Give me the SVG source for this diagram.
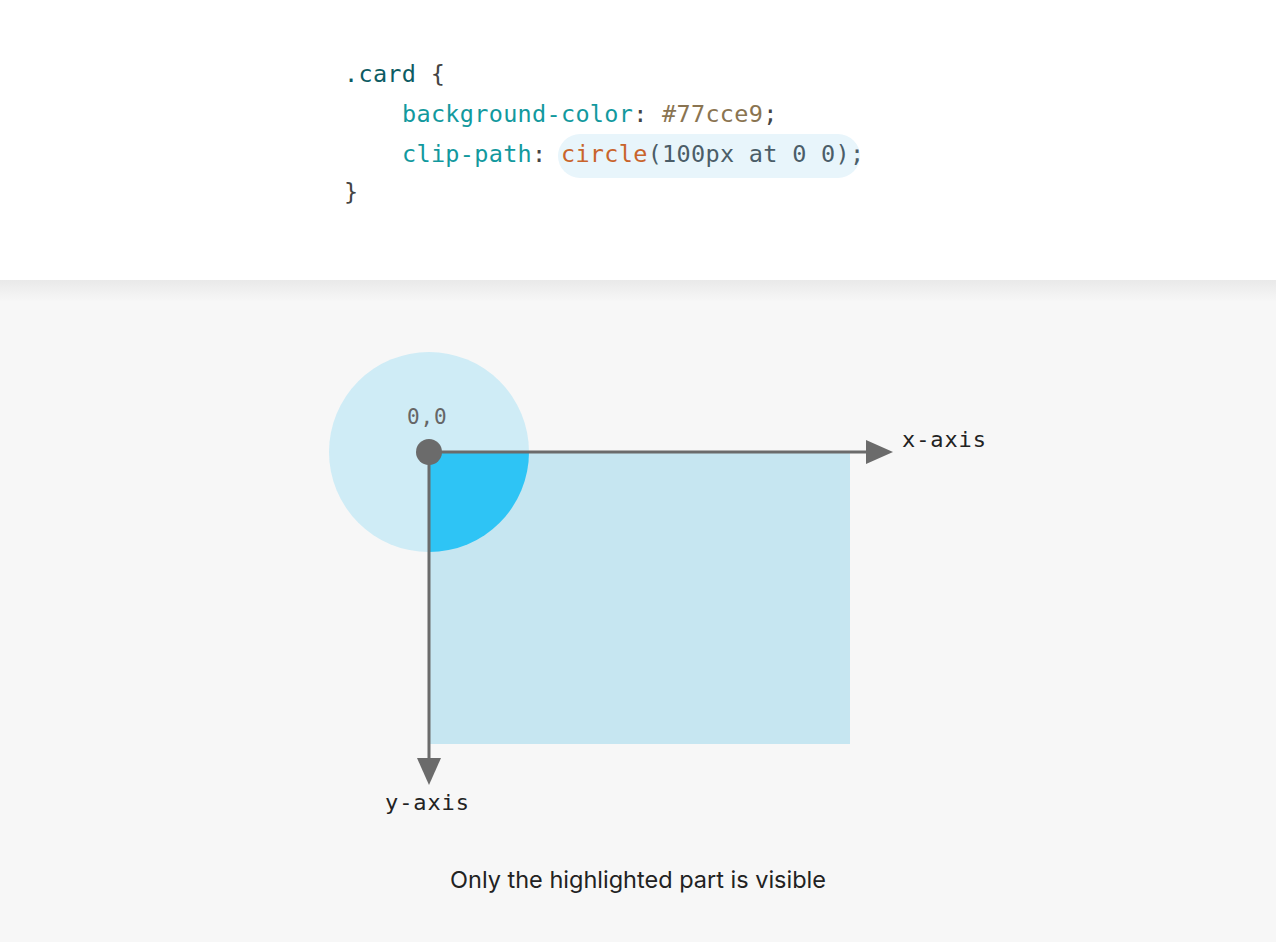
<svg xmlns="http://www.w3.org/2000/svg" width="1276" height="942" viewBox="0 0 1276 942">
<defs>
<linearGradient id="shadow" x1="0" y1="0" x2="0" y2="1">
<stop offset="0" stop-color="#e9e9e9"/>
<stop offset="1" stop-color="#f7f7f7"/>
</linearGradient>
<clipPath id="clipCircle"><circle cx="429" cy="452" r="100"/></clipPath>
</defs>
<style>
.code{font-family:"DejaVu Sans Mono",monospace;font-size:23.5px;letter-spacing:0.3px}
.sel{fill:#0d5c63}
.punc{fill:#444}
.prop{fill:#12999e}
.val{fill:#8a7451}
.fn{fill:#c9642c}
.arg{fill:#4b5d68}
.mono{font-family:"DejaVu Sans Mono",monospace}
.axis{stroke:#6b6b6b;stroke-width:3;fill:none}
.head{fill:#6b6b6b}
.lbl{font-size:22px;letter-spacing:0.9px;fill:#222}
</style>
<rect x="0" y="0" width="1276" height="942" fill="#f7f7f7"/>
<rect x="0" y="280" width="1276" height="22" fill="url(#shadow)"/>
<rect x="0" y="0" width="1276" height="280" fill="#ffffff"/>

<g id="code">
<rect x="558" y="134" width="302" height="44" rx="22" fill="#e8f5fb"/>
<text class="code" x="344" y="82"><tspan class="sel">.card</tspan><tspan class="punc"> {</tspan></text>
<text class="code" x="402" y="122"><tspan class="prop">background-color</tspan><tspan class="punc">: </tspan><tspan class="val">#77cce9</tspan><tspan class="punc">;</tspan></text>
<text class="code" x="402" y="162"><tspan class="prop">clip-path</tspan><tspan class="punc">: </tspan><tspan class="fn">circle</tspan><tspan class="arg">(100px at 0 0);</tspan></text>
<text class="code punc" x="344" y="200">}</text>
</g>

<g id="shapes">
<circle cx="429" cy="452" r="100" fill="#cfecf6"/>
<rect x="429" y="452" width="421" height="292" fill="#c6e6f1"/>
<rect x="429" y="452" width="421" height="292" fill="#2ec4f5" clip-path="url(#clipCircle)"/>
</g>

<g id="connectors">
<line class="axis" x1="429" y1="452" x2="867" y2="452"/>
<path class="head" d="M866,440 L893,452 L866,464 Z"/>
<line class="axis" x1="429" y1="452" x2="429" y2="760"/>
<path class="head" d="M417,758 L429,785 L441,758 Z"/>
</g>

<g id="origin">
<circle cx="429" cy="452" r="13" fill="#6b6b6b"/>
<text class="mono" x="407" y="424" font-size="21" letter-spacing="0.8" fill="#666">0,0</text>
</g>

<g id="xlabel"><text class="mono lbl" x="902" y="447">x-axis</text></g>
<g id="ylabel"><text class="mono lbl" x="385" y="810">y-axis</text></g>

<g id="caption"><text x="638" y="888" font-family="Inter, 'Noto Sans', sans-serif" font-size="23.5" fill="#222" text-anchor="middle">Only the highlighted part is visible</text></g>
</svg>
